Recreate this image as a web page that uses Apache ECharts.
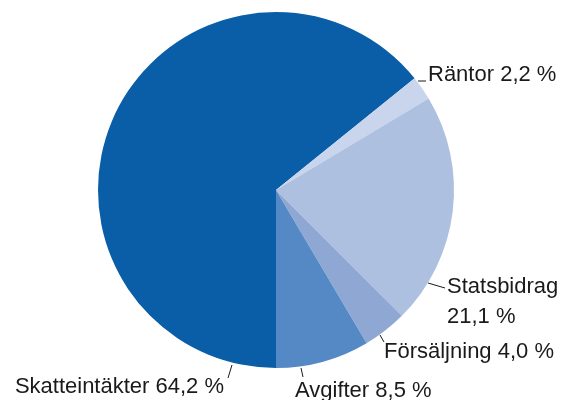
<!DOCTYPE html>
<html>
<head>
<meta charset="utf-8">
<script src="https://cdn.jsdelivr.net/npm/echarts@6/dist/echarts.min.js"></script>
<style>
  html, body { margin: 0; padding: 0; background: #fff; }
  #chart { width: 561px; height: 400px; }
</style>
</head>
<body>
<div id="chart"></div>
<script>
  // andelar i procent, i ordning medurs från klockan sex
  var categories = ['Skatteintäkter', 'Räntor', 'Statsbidrag', 'Försäljning', 'Avgifter'];
  var shares = [64.2, 2.2, 21.1, 4.0, 8.5];
  var colors = ['#0a5ea7', '#c8d5ec', '#aec0e0', '#8fa7d3', '#5589c6'];

  // var etiketterna och deras linjer sitter
  var labelPlacement = [
    { x: 224, y: 387, align: 'right', line: [[232, 365], [228, 378]] },
    { x: 428, y: 74.5, align: 'left', line: [[418, 81], [426, 81]] },
    { x: 447, y: 272, align: 'left', top: true, line: [[428, 283], [445, 288]] },
    { x: 384, y: 352, align: 'left', line: [[380, 335], [384, 342]] },
    { x: 295, y: 391, align: 'left', line: [[301, 368], [303, 377]] }
  ];

  function fmt(v) {
    return v.toFixed(1).replace('.', ',') + ' %';
  }

  var chart = echarts.init(document.getElementById('chart'));

  chart.setOption({
    animation: false,
    series: [{
      type: 'pie',
      center: [276, 190],
      radius: 178,
      startAngle: -90,
      clockwise: true,
      avoidLabelOverlap: false,
      silent: true,
      itemStyle: { borderWidth: 0 },
      label: {
        show: true,
        position: 'outside',
        color: '#1a1a1a',
        fontFamily: '"Liberation Sans", Arial, Helvetica, sans-serif',
        fontSize: 22,
        lineHeight: 30,
        formatter: function (p) {
          return p.name === 'Statsbidrag'
            ? p.name + '\n' + fmt(p.value)
            : p.name + ' ' + fmt(p.value);
        }
      },
      labelLine: {
        show: true,
        lineStyle: { color: '#1a1a1a', width: 1 }
      },
      labelLayout: function (params) {
        var p = labelPlacement[params.dataIndex];
        return {
          x: p.x,
          y: p.y,
          align: p.align,
          verticalAlign: p.top ? 'top' : 'middle',
          labelLinePoints: [p.line[0], p.line[1], p.line[1]]
        };
      },
      data: categories.map(function (c, i) {
        return { name: c, value: shares[i], itemStyle: { color: colors[i] } };
      })
    }]
  });
</script>
</body>
</html>
